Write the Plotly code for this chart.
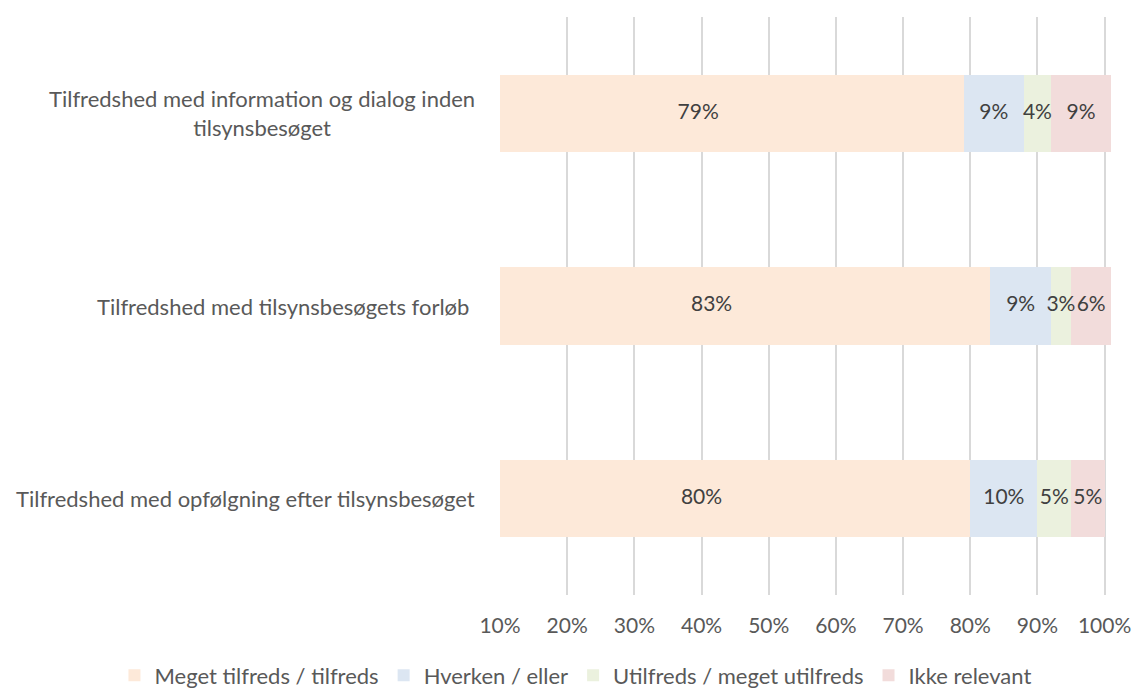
import plotly.graph_objects as go

categories = [
    "Tilfredshed med information og dialog inden<br>tilsynsbesøget",
    "Tilfredshed med tilsynsbesøgets forløb ",
    "Tilfredshed med opfølgning efter tilsynsbesøget",
]
series_names = [
    "Meget tilfreds / tilfreds",
    "Hverken / eller",
    "Utilfreds / meget utilfreds",
    "Ikke relevant",
]
meget_tilfreds = [79, 83, 80]
hverken_eller = [9, 9, 10]
utilfreds = [4, 3, 5]
ikke_relevant = [9, 6, 5]
tick_values = [10, 20, 30, 40, 50, 60, 70, 80, 90, 100]
tick_labels = ["10%", "20%", "30%", "40%", "50%", "60%", "70%", "80%", "90%", "100%"]

colors = ["#FDE9D9", "#DCE6F2", "#EBF1DE", "#F2DCDB"]
series = [meget_tilfreds, hverken_eller, utilfreds, ikke_relevant]

FONT = "Lato"
TEXT_COLOR = "#595959"

fig = go.Figure()
cum = [0, 0, 0]
label_x, label_y, label_t = [], [], []
for name, vals, col in zip(series_names, series, colors):
    fig.add_trace(go.Bar(
        y=categories, x=vals, name=name, orientation="h",
        marker=dict(color=col, line=dict(width=0)),
        hoverinfo="x+name",
    ))
    for i, v in enumerate(vals):
        label_x.append(cum[i] + v / 2)
        label_y.append(categories[i])
        label_t.append(f"{v}%")
        cum[i] += v

fig.add_trace(go.Scatter(
    x=label_x, y=label_y, text=label_t, mode="text",
    textfont=dict(family=FONT, size=21, color="#404040"),
    showlegend=False, hoverinfo="skip",
))

for c in categories:
    fig.add_annotation(
        x=0, xref="paper", xanchor="right", xshift=-23,
        y=c, yref="y", yanchor="middle",
        text=c, showarrow=False, align="center",
        font=dict(family=FONT, size=22, color=TEXT_COLOR),
    )

fig.update_layout(
    barmode="stack",
    bargap=0.6,
    width=1134, height=690,
    margin=dict(l=500, r=22, t=17, b=95, autoexpand=False),
    paper_bgcolor="white", plot_bgcolor="white",
    font=dict(family=FONT, size=21, color=TEXT_COLOR),
    xaxis=dict(
        range=[10, 101.1],
        tickvals=tick_values, ticktext=tick_labels,
        showgrid=True, gridcolor="#D9D9D9", gridwidth=1.5,
        zeroline=False, showline=False, ticks="",
        tickfont=dict(family=FONT, size=21, color=TEXT_COLOR),
        ticklabelstandoff=16,
        automargin=False,
    ),
    yaxis=dict(
        categoryorder="array", categoryarray=categories,
        autorange="reversed",
        showticklabels=False, showgrid=False, zeroline=False, showline=False,
        automargin=False,
    ),
    legend=dict(
        orientation="h",
        xref="paper", x=-0.63, xanchor="left",
        yref="paper", y=-0.139, yanchor="middle",
        font=dict(family=FONT, size=22, color=TEXT_COLOR),
        itemwidth=30,
        traceorder="normal",
    ),
    showlegend=True,
)

fig.write_html(
    "out.html",
    config={"displayModeBar": False},
    post_script="document.body.style.margin='0';document.body.style.padding='0';",
)
